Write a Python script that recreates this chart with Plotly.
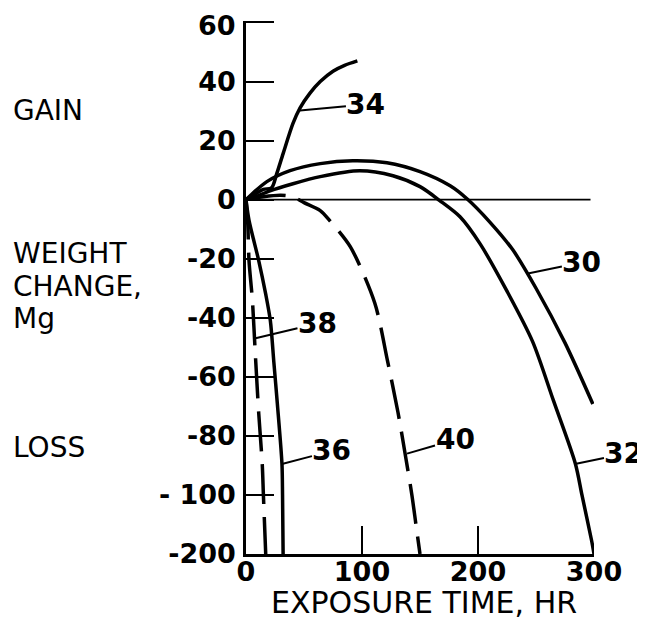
import plotly.graph_objects as go

# ---------------- data (real values, Mg vs hr) ----------------
c30_x = [0, 4, 18, 38, 64, 92, 121.5, 150, 176, 190.5, 210, 230, 250, 275, 299]
c30_y = [0, 1.5, 6.1, 9.8, 12.2, 13.2, 12.5, 9.5, 4.7, 0.3, -7.5, -17, -30, -48.5, -69.2]

c32_x = [0, 5, 20.7, 40.5, 64, 98, 126.7, 150, 167, 184.5, 201.7, 225, 247, 265, 284, 289.6, 298, 300]
c32_y = [0, 0.5, 3, 5.4, 7.8, 9.8, 8.1, 4.4, -0.3, -5.8, -14.9, -31, -48, -68, -89.5, -100, -178, -200]

c34_x = [0, 8, 15, 22, 26.5, 32, 40.5, 46.5, 55, 64, 75, 85, 96]
c34_y = [0, 2, 3.5, 4, 8.8, 15.6, 25.8, 31, 36, 40, 43.5, 45.5, 47]

c36_x = [0, 2.6, 11, 17, 21, 24, 27, 31, 31.5, 32]
c36_y = [0, -7, -20.7, -32, -41, -55, -69, -89.5, -100, -200]

c38_x = [0, 1.5, 2.6, 5.5, 8, 11, 14, 15, 17]
c38_y = [0, -8, -20.7, -34, -52, -72.5, -89.5, -100, -200]

c40_x = [0, 15, 30, 40, 50, 64, 72, 90, 111, 122, 131, 138, 143, 146.5, 150]
c40_y = [0, 1, 1.5, 1, -1, -3.7, -7, -16, -35, -54.6, -72, -88, -100, -150, -200]

x_ticks = [0, 100, 200, 300]
y_ticks = [60, 40, 20, 0, -20, -40, -60, -80, -100, -200]
y_tick_text = ["60", "40", "20", "0", "-20", "-40", "-60", "-80", "- 100", "-200"]

labels = ["34", "30", "32", "40", "36", "38"]
label_pts = [(46.5, 30.2), (243, -25), (283.6, -89.5), (138.8, -86), (31, -89.5), (7.3, -47)]
label_off = [(66, -6), (54, -11), (49, -10), (48, -14), (50, -13), (63, -15)]


# broken axis: below -100 the scale is compressed (-100 .. -200 shown in one step)
def disp(v):
    return v if v >= -100 else -100 + (v + 100) / 5.0


def dlist(vals):
    return [disp(v) for v in vals]


FONT = "DejaVu Sans"
OFF = 8                      # page body margin
W, H = 645 - OFF, 621 - OFF
Y_TOP = 60.5                 # a little headroom so the 60 tick is drawn
PX_PER_UNIT = 532 / 180.0
L, R, B = 246 - OFF, 51, 67
T = round(22 - (Y_TOP - 60) * PX_PER_UNIT) - OFF

fig = go.Figure()

solid = dict(color="black", width=3.5, shape="spline", smoothing=0.8)
dashed = dict(color="black", width=3.5, shape="spline", smoothing=0.8, dash="40px,13px")

for xs, ys, ln in [(c30_x, c30_y, solid), (c32_x, c32_y, solid), (c34_x, c34_y, solid),
                   (c36_x, c36_y, solid), (c38_x, c38_y, dashed), (c40_x, c40_y, dashed)]:
    fig.add_trace(go.Scatter(x=xs, y=dlist(ys), mode="lines", line=ln,
                             hoverinfo="skip", showlegend=False))

# zero reference line
fig.add_shape(type="line", xref="x", yref="y", x0=0, x1=297, y0=0, y1=0,
              line=dict(color="black", width=1.8))

# curve labels with leaders
for txt, (px_, py_), (ax_, ay_) in zip(labels, label_pts, label_off):
    fig.add_annotation(x=px_, y=disp(py_), xref="x", yref="y", text=txt,
                       showarrow=True, arrowhead=0, arrowwidth=2, arrowcolor="black",
                       ax=ax_, ay=ay_, standoff=0, borderpad=0,
                       font=dict(family=FONT, size=28, color="black", weight="bold"))


# page-pixel -> paper coordinates
def paper_x(px):
    return (px - OFF - L) / (W - L - R)


def paper_y(py):
    return 1 - (py - OFF - T) / (H - T - B)


side_labels = [("GAIN", 110), ("WEIGHT", 253), ("CHANGE,", 286), ("Mg", 318), ("LOSS", 447)]
for txt, py in side_labels:
    fig.add_annotation(x=paper_x(12), y=paper_y(py), xref="paper", yref="paper",
                       text=txt, showarrow=False, xanchor="left", yanchor="middle",
                       borderpad=0,
                       font=dict(family=FONT, size=28, color="black"))

fig.add_annotation(x=paper_x(424), y=paper_y(602), xref="paper", yref="paper",
                   text="EXPOSURE TIME, HR", showarrow=False,
                   xanchor="center", yanchor="middle", borderpad=0,
                   font=dict(family=FONT, size=30, color="black"))

tickfont = dict(family=FONT, size=27, color="black", weight="bold")

# the top tick label sits a bit below its tick in the original; draw it as text
top_text = y_tick_text[0]
axis_text = [""] + y_tick_text[1:]
fig.add_annotation(x=0, xref="paper", xshift=-9, xanchor="right",
                   y=disp(y_ticks[0]), yref="y", yshift=-3, yanchor="middle",
                   text=top_text, showarrow=False, borderpad=0,
                   font=tickfont)

fig.update_layout(
    width=W, height=H, autosize=False,
    margin=dict(l=L, r=R, t=T, b=B, pad=0),
    paper_bgcolor="white", plot_bgcolor="white",
    font=dict(family=FONT, size=28, color="black"),
    xaxis=dict(range=[0, 300], tickvals=x_ticks, ticktext=[str(v) for v in x_ticks],
               ticks="inside", ticklen=28, tickwidth=2, tickcolor="black",
               showline=True, linecolor="black", linewidth=2.5,
               showgrid=False, zeroline=False, ticklabelstandoff=-8,
               ticklabeloverflow="allow", automargin=False, tickfont=tickfont),
    yaxis=dict(range=[-120, Y_TOP], tickvals=dlist(y_ticks), ticktext=axis_text,
               ticks="inside", ticklen=28, tickwidth=2, tickcolor="black",
               showline=True, linecolor="black", linewidth=2.5,
               showgrid=False, zeroline=False, ticklabelstandoff=2,
               ticklabeloverflow="allow", automargin=False, tickfont=tickfont),
)

fig.write_html("out.html")
